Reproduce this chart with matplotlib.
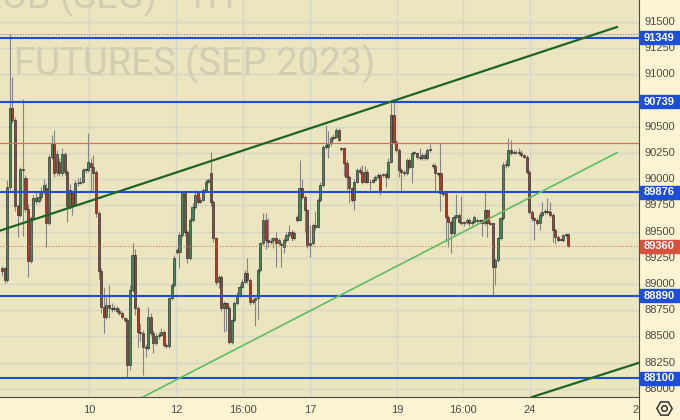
import numpy as np
import matplotlib
matplotlib.use("Agg")
import matplotlib.pyplot as plt
from matplotlib.transforms import blended_transform_factory

# hourly candles, SEP 2023 futures
opens = [89150, 89150, 89040, 89930, 90676, 90565, 89740, 89660, 90100, 90010,
         89720, 89215, 89630, 89790, 89790, 89835, 89880, 89915, 89580, 90215,
         90342, 90070, 90165, 90056, 90245, 90070, 89740, 89880, 89755, 89960,
         89965, 89975, 90090, 90090, 90150, 90120, 90070, 89675, 89120, 88785,
         88690, 88800, 88770, 88760, 88770, 88740, 88720, 88675, 88660, 88230,
         88945, 89277, 88770, 88546, 88530, 88403, 88390, 88690, 88530, 88435,
         88500, 88515, 88546, 88420, 88410, 88865, 88990, 89325, 89310, 89468,
         89865, 89500, 89245, 89611, 89738, 89865, 89786, 89802, 89897, 89977,
         90056, 89786, 89436, 89023, 89070, 88768, 88816, 88768, 88450, 88657,
         88816, 88895, 88975, 89023, 89102, 89039, 88832, 88848, 88864, 89134,
         89388, 89611, 89420, 89404, 89420, 89436, 89388, 89380, 89357, 89420,
         89468, 89500, 89436, 89643, 89611, 89913, 89834, 89706, 89372, 89388,
         89563, 89547, 89802, 89945, 90311, 90311, 90342, 90390, 90406, 90470,
         90295, 90295, 90152, 90024, 89913, 89802, 89977, 90088, 90072, 89977,
         90072, 89977, 89977, 89993, 90024, 90040, 90040, 90050, 90024, 90167,
         90613, 90358, 90279, 90088, 90072, 90056, 90183, 90120, 90247, 90247,
         90215, 90199, 90231, 90199, 90279, 90136, 90130, 90056, 90056, 89865,
         89865, 89643, 89595, 89484, 89643, 89659, 89595, 89579, 89595, 89611,
         89579, 89595, 89600, 89611, 89611, 89579, 89706, 89579, 89579, 89166,
         89229, 89436, 89627, 90136, 90136, 90279, 90247, 90263, 90255, 90247,
         90231, 90215, 90072, 89690, 89627, 89611, 89579, 89659, 89690, 89700,
         89690, 89659, 89516, 89452, 89420, 89420, 89468, 89475]
highs = [89170, 89160, 89990, 91390, 90980, 90590, 89760, 90120, 90770, 90040,
         89760, 89650, 89850, 89880, 89890, 89930, 90000, 89960, 90240, 90420,
         90470, 90280, 90200, 90300, 90260, 90090, 89950, 89900, 89990, 90010,
         90020, 90110, 90110, 90438, 90200, 90230, 90090, 89700, 89150, 88975,
         88880, 88990, 88820, 88800, 88790, 88770, 88740, 88690, 88680, 88990,
         89388, 89330, 88790, 88620, 88560, 88430, 88784, 88720, 88560, 88530,
         88540, 88580, 88560, 88440, 88880, 89010, 89280, 89340, 89500, 89880,
         89880, 89520, 89630, 89770, 89900, 89890, 89830, 89920, 90000, 90010,
         90263, 89800, 89450, 89090, 89090, 88840, 88830, 88790, 88670, 88840,
         88920, 89000, 89050, 89130, 89250, 89060, 88870, 88880, 89150, 89400,
         89675, 89680, 89630, 89440, 89450, 89500, 89440, 89400, 89440, 89500,
         89560, 89520, 89510, 89660, 90183, 90000, 89850, 89720, 89560, 89580,
         89700, 89820, 89970, 90330, 90517, 90460, 90410, 90430, 90490, 90490,
         90310, 90310, 90180, 90040, 89930, 90000, 90110, 90120, 90136, 90130,
         90100, 90000, 90010, 90040, 90060, 90060, 90060, 90070, 90200, 90740,
         90740, 90370, 90300, 90110, 90090, 90200, 90200, 90270, 90270, 90263,
         90300, 90250, 90250, 90300, 90340, 90150, 90150, 90070, 90350, 89880,
         89880, 89660, 89610, 89660, 89860, 89680, 89840, 89600, 89630, 89630,
         89610, 89660, 89630, 89620, 89620, 89897, 89720, 89600, 89590, 89250,
         89450, 89640, 90160, 90180, 90390, 90370, 90280, 90280, 90300, 90280,
         90240, 90230, 90090, 89710, 89640, 89630, 89690, 89780, 89720, 89820,
         89780, 89680, 89530, 89470, 89440, 89480, 89490, 89490]
lows = [89080, 89010, 89020, 89900, 90540, 89700, 89450, 89640, 89460, 89690,
        89070, 89200, 89610, 89760, 89770, 89800, 89860, 89350, 89560, 90190,
        90020, 90040, 90030, 90030, 90040, 89595, 89720, 89660, 89740, 89940,
        89950, 89960, 90060, 90070, 89880, 89900, 89640, 89050, 88720, 88530,
        88670, 88680, 88730, 88740, 88720, 88700, 88670, 88640, 88100, 88180,
        88920, 88700, 88400, 88460, 88132, 88300, 88370, 88500, 88340, 88420,
        88480, 88500, 88400, 88390, 88390, 88850, 88970, 89290, 89150, 89450,
        89460, 89200, 89230, 89590, 89720, 89760, 89770, 89790, 89880, 89960,
        89740, 89400, 88990, 88960, 88740, 88546, 88550, 88430, 88430, 88640,
        88800, 88880, 88960, 89010, 89010, 88800, 88810, 88595, 88670, 89110,
        89370, 89330, 89350, 89380, 89340, 89160, 89370, 89160, 89300, 89400,
        89450, 89410, 89420, 89590, 89600, 89810, 89500, 89340, 89260, 89370,
        89520, 89530, 89780, 89930, 90290, 90200, 90320, 90370, 90390, 90360,
        90270, 90030, 89900, 89770, 89780, 89710, 89960, 90050, 89950, 89960,
        89960, 89900, 89960, 89980, 90000, 89850, 90020, 89930, 90000, 90150,
        90340, 90260, 90020, 89890, 90030, 90040, 90100, 89960, 90230, 90190,
        90180, 90180, 90180, 90180, 90260, 90110, 89880, 90030, 89700, 89840,
        89404, 89350, 89293, 89460, 89620, 89580, 89560, 89550, 89570, 89550,
        89560, 89580, 89580, 89590, 89460, 89560, 89450, 89560, 88880, 88990,
        89210, 89420, 89610, 90110, 90120, 90230, 90240, 90240, 90230, 90210,
        90200, 90050, 89670, 89600, 89420, 89560, 89520, 89640, 89670, 89670,
        89640, 89400, 89380, 89400, 89410, 89400, 89450, 89350]
closes = [89120, 89040, 89930, 90676, 90565, 89740, 89660, 90100, 90090, 89720,
          89215, 89630, 89820, 89820, 89835, 89880, 89945, 89580, 90215, 90342,
          90056, 90245, 90056, 90245, 90070, 89740, 89900, 89755, 89960, 89965,
          89975, 90090, 90090, 90160, 90120, 90056, 89675, 89120, 88785, 88690,
          88800, 88770, 88760, 88765, 88740, 88720, 88690, 88660, 88230, 88945,
          89277, 88770, 88546, 88530, 88403, 88390, 88690, 88530, 88435, 88500,
          88515, 88546, 88420, 88410, 88865, 88990, 89245, 89310, 89468, 89865,
          89500, 89245, 89611, 89738, 89850, 89786, 89802, 89897, 89977, 89990,
          89786, 89436, 89023, 89070, 88768, 88816, 88768, 88450, 88657, 88816,
          88895, 88975, 89023, 89102, 89039, 88832, 88848, 88864, 89134, 89388,
          89611, 89420, 89404, 89415, 89436, 89388, 89420, 89372, 89420, 89468,
          89500, 89436, 89484, 89611, 89913, 89834, 89706, 89372, 89388, 89563,
          89547, 89802, 89945, 90311, 90327, 90342, 90390, 90406, 90470, 90374,
          90285, 90152, 90024, 89913, 89802, 89977, 90088, 90072, 89977, 90072,
          89977, 89970, 89993, 90024, 90040, 89881, 90050, 90024, 90167, 90613,
          90358, 90279, 90088, 90072, 90056, 90183, 90120, 90247, 90250, 90215,
          90199, 90231, 90199, 90279, 90285, 90130, 90056, 90050, 89865, 89860,
          89643, 89595, 89484, 89643, 89659, 89595, 89579, 89590, 89611, 89579,
          89595, 89643, 89611, 89605, 89579, 89706, 89579, 89575, 89166, 89229,
          89436, 89627, 90136, 90140, 90279, 90247, 90263, 90255, 90247, 90231,
          90215, 90072, 89690, 89627, 89611, 89579, 89659, 89690, 89700, 89690,
          89659, 89516, 89452, 89420, 89425, 89468, 89475, 89360]

# x axis labels (candle index positions)
date_ticks = [33.3, 66.7, 92.3, 118.0, 151.3, 176.6, 202.3, 244.0]
date_labels = ["10", "12", "16:00", "17", "19", "16:00", "24", "26"]
price_ticks = [88000, 88250, 88500, 88750, 89000, 89250, 89500, 89750,
               90000, 90250, 90500, 90750, 91000, 91250, 91500]

# drawn levels and trend lines
levels = [91349, 90739, 89876, 88890, 88100]
red_level = 90345
upper_trend_x = [-0.77, 235.6]
upper_trend_y = [89509, 91452]
lower_trend_x = [54.0, 235.6]
lower_trend_y = [87922, 90253]
bottom_trend_x = [203.1, 250.0]
bottom_trend_y = [87922, 88296]

BG = "#ebe6bf"
PANEL = "#fdf4d4"
BLUE = "#1c4ed6"
GREEN_C = "#43875a"
RED_C = "#b2372b"

o = np.array(opens); h = np.array(highs); l = np.array(lows); c = np.array(closes)
idx = np.arange(len(c))

fig = plt.figure(figsize=(6.8, 4.2), dpi=100, facecolor=PANEL)
W, H = 680.0, 420.0
ax = fig.add_axes([0, 23 / H, 639 / W, 397 / H], facecolor=BG)
ax.set_xlim(-0.766, 244.06)
ax.set_ylim(87922, 91710)

ax.set_yticks(price_ticks)
ax.set_xticks(date_ticks)
ax.set_xticklabels(date_labels)
ax.tick_params(axis="y", left=False, labelleft=False)
ax.tick_params(axis="x", length=0, pad=6, labelsize=8, labelcolor="#4a4a4a")
for lab in ax.get_xticklabels():
    lab.set_family("Liberation Sans")
ax.grid(True, color="#d6d6cb", lw=1, zorder=0)
ax.set_axisbelow(True)
for s in ["top", "left", "right"]:
    ax.spines[s].set_visible(False)
ax.spines["bottom"].set_color("#4a4a4a")

# watermark (first line sits mostly above the frame, as in the source)
ax.text(235 / 639, (397 - 8) / 397, "USD/RUB (SEG) · 1H", transform=ax.transAxes,
        ha="right", va="baseline", fontsize=27.5, color="#d3ceb1", family="Roboto", zorder=1)
ax.text(14 / 639, (397 - 75) / 397, "FUTURES (SEP 2023)", transform=ax.transAxes,
        ha="left", va="baseline", fontsize=27.5, color="#d3ceb1", family="Roboto", zorder=1)

# candles
up = c >= o
cols = np.where(up, GREEN_C, RED_C)
ax.vlines(idx, l, h, color="#858585", lw=0.8, zorder=2)
body_lo = np.minimum(o, c)
body_h = np.maximum(np.abs(c - o), 8)
ax.bar(idx, body_h, bottom=body_lo, width=0.8, color=cols, edgecolor="#2a2a2a",
       linewidth=0.45, zorder=2.5)

# levels
for p in levels:
    ax.axhline(p, color=BLUE, lw=1.5, zorder=3)
ax.axhline(red_level, color="#d9705c", lw=0.9, zorder=3)
ax.axhline(max(highs), color="#8a8a80", lw=0.8, ls=(0, (1, 1.5)), zorder=3)
ax.axhline(closes[-1], color="#e07a5f", lw=0.8, ls=(0, (1, 1.5)), zorder=3)

ax.plot(upper_trend_x, upper_trend_y, color="#1e6524", lw=1.6, zorder=3.5)
ax.plot(lower_trend_x, lower_trend_y, color="#5fbd63", lw=1.2, zorder=3.5)
ax.plot(bottom_trend_x, bottom_trend_y, color="#1e6524", lw=1.6, zorder=3.5)

# price scale panel
ax2 = fig.add_axes([639 / W, 0, 1 - 639 / W, 1], facecolor=PANEL, zorder=3)
lo, hi = ax.get_ylim()
per_px = (hi - lo) / 397.0
ax2.set_ylim(lo - 23 * per_px, hi)
ax2.set_xlim(0, 1)
ax2.set_xticks([]); ax2.set_yticks([])
for s in ["top", "right", "bottom"]:
    ax2.spines[s].set_visible(False)
ax2.spines["left"].set_color("#4a4a4a")
tr = blended_transform_factory(ax2.transAxes, ax2.transData)
for p in price_ticks:
    ax2.text(0.14, p, str(p), transform=tr, ha="left", va="center", fontsize=8,
             color="#4a4a4a", family="Liberation Sans")
for p in levels:
    ax2.axhspan(p - 6.5 * per_px, p + 6.5 * per_px, xmin=0.02, xmax=1, color=BLUE, zorder=4)
    ax2.text(0.5, p, str(p), transform=tr, ha="center", va="center", fontsize=8,
             color="white", fontweight="bold", family="Liberation Sans", zorder=5)
last = closes[-1]
ax2.axhspan(last - 6.5 * per_px, last + 6.5 * per_px, xmin=0.02, xmax=1, color="#d9503f", zorder=4)
ax2.text(0.5, last, str(last), transform=tr, ha="center", va="center", fontsize=8,
         color="white", fontweight="bold", family="Liberation Sans", zorder=5)

# settings icon
ax2.plot([0.61], [12 / H], marker="H", ms=11, mfc="none", mec="#333333", mew=1.1,
         transform=ax2.transAxes, clip_on=False)
ax2.plot([0.61], [12 / H], marker="o", ms=4, mfc="none", mec="#333333", mew=1.1,
         transform=ax2.transAxes, clip_on=False)

fig.savefig("out.png", dpi=100, facecolor=PANEL)
